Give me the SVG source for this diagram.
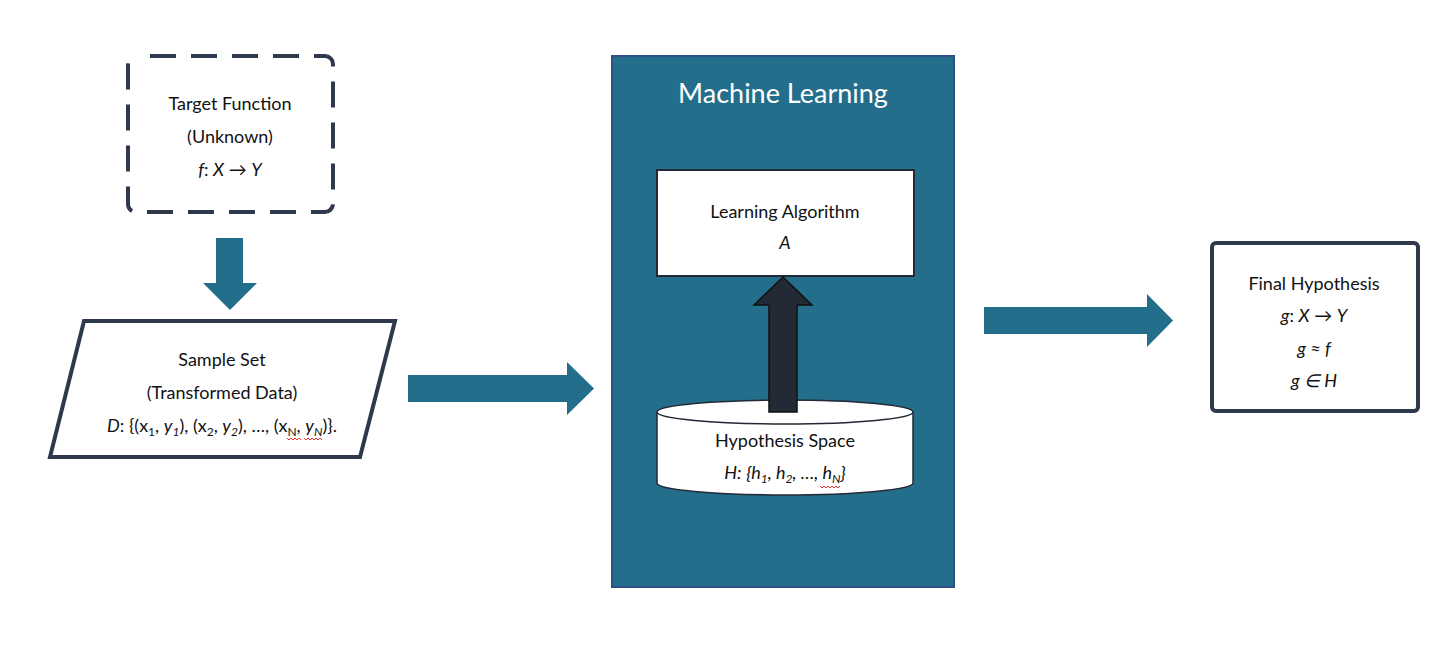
<svg xmlns="http://www.w3.org/2000/svg" width="1447" height="651" viewBox="0 0 1447 651">
<style>
text{font-family:Lato,"Open Sans","Liberation Sans",sans-serif;font-size:18px;fill:#111;text-anchor:middle}
.i{font-style:italic}
.s{font-size:12px}
.teal{fill:#236e8b}
.node{fill:#fff;stroke:#2e3a4c;stroke-width:4}
.sq{fill:none;stroke:#e03030;stroke-width:1}
</style>
<rect width="1447" height="651" fill="#fff"/>
<g id="connectors">
<polygon class="teal" points="216,238 243,238 243,283 257,283 230,310 203,283 216,283"/>
<polygon class="teal" points="408,375 567,375 567,362 594,388.5 567,415 567,402 408,402"/>
<polygon class="teal" points="984,307 1147,307 1147,294 1173,320.5 1147,347 1147,334 984,334"/>
</g>
<g id="machine-learning">
<rect x="612" y="56" width="342" height="531" fill="#236e8b" stroke="#2d5089" stroke-width="2"/>
<text x="783" y="103" style="font-size:27px;fill:#fff">Machine Learning</text>
</g>
<g id="learning-algorithm">
<rect x="657" y="170" width="257" height="106" fill="#fff" stroke="#232935" stroke-width="2"/>
<text x="785" y="218">Learning Algorithm</text>
<text x="785" y="249" class="i">A</text>
</g>
<g id="hypothesis-space">
<path d="M657,412 V483 A128,12 0 0 0 913,483 V412" fill="#fff" stroke="#232935" stroke-width="1.5"/>
<ellipse cx="785" cy="412" rx="128" ry="12" fill="#fff" stroke="#232935" stroke-width="1.5"/>
<text x="785" y="447">Hypothesis Space</text>
<text x="785" y="479"><tspan class="i">H:</tspan> <tspan class="i">{h</tspan><tspan class="i s" dy="4">1</tspan><tspan dy="-4" class="i">, h</tspan><tspan class="i s" dy="4">2</tspan><tspan dy="-4" class="i">, …, h</tspan><tspan class="i s" dy="4">N</tspan><tspan dy="-4" class="i">}</tspan></text>
<path class="sq" d="M820,486 l2,2 l2,-2 l2,2 l2,-2 l2,2 l2,-2 l2,2 l2,-2 l2,2 l2,-2"/>
</g>
<g id="up-arrow">
<polygon points="769,412 797,412 797,305 812,305 783,277 754,305 769,305" fill="#232935" stroke="#111" stroke-width="1.5"/>
</g>
<g id="target-function">
<rect x="128" y="56" width="205" height="156" rx="8" fill="#fff" stroke="#2e3a4c" stroke-width="4" stroke-dasharray="26,15" stroke-dashoffset="-14"/>
<text x="230" y="110">Target Function</text>
<text x="230" y="143">(Unknown)</text>
<text x="230" y="176"><tspan class="i">f</tspan>: <tspan class="i">X</tspan> → <tspan class="i">Y</tspan></text>
</g>
<g id="sample-set">
<polygon class="node" points="84,321 395,321 360,457 50,457"/>
<text x="222" y="366">Sample Set</text>
<text x="222" y="399">(Transformed Data)</text>
<text x="222" y="432"><tspan class="i">D</tspan>: {(x<tspan class="s" dy="4">1</tspan><tspan dy="-4">, </tspan><tspan class="i">y</tspan><tspan class="i s" dy="4">1</tspan><tspan dy="-4">), (x</tspan><tspan class="s" dy="4">2</tspan><tspan dy="-4">, </tspan><tspan class="i">y</tspan><tspan class="i s" dy="4">2</tspan><tspan dy="-4">), …, (x</tspan><tspan class="s" dy="4">N</tspan><tspan dy="-4">, </tspan><tspan class="i">y</tspan><tspan class="i s" dy="4">N</tspan><tspan dy="-4">)}.</tspan></text>
<path class="sq" d="M287,438 l2,2 l2,-2 l2,2 l2,-2 l2,2 l2,-2 l2,2"/>
<path class="sq" d="M304,438 l2,2 l2,-2 l2,2 l2,-2 l2,2 l2,-2 l2,2 l2,-2 l2,2"/>
</g>
<g id="final-hypothesis">
<rect x="1212" y="243" width="206" height="168" rx="4" class="node"/>
<text x="1314" y="290">Final Hypothesis</text>
<text x="1314" y="322"><tspan class="i">g</tspan>: <tspan class="i">X</tspan> → <tspan class="i">Y</tspan></text>
<text x="1314" y="355" class="i">g ≈ f</text>
<text x="1314" y="387" class="i">g ∈ H</text>
</g>
</svg>
